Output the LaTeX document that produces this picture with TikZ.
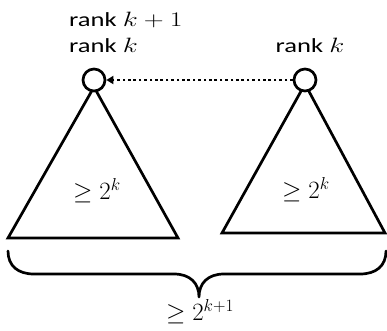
\documentclass[tikz,border=0pt]{standalone}
\usepackage{fontspec}
\setmainfont{Carlito}
\usetikzlibrary{arrows.meta}
\newcommand{\wide}[1]{\scalebox{1.33}[1]{#1}}
\begin{document}
\begin{tikzpicture}[x=1pt,y=-1pt,
  vert/.style={circle,draw,line width=2.7pt,fill=white,minimum size=22pt,inner sep=0pt},
  tri/.style={draw,line width=2.7pt,line join=miter},
  lbl/.style={font=\fontsize{20}{23}\selectfont,inner sep=0pt},
  cnt/.style={font=\fontsize{24}{28}\selectfont,inner sep=0pt},
  link/.style={line width=2.7pt,dash pattern=on 2.7pt off 2.7pt,-{Triangle[length=7pt,width=8pt]}}
]
\useasboundingbox (0,0) rectangle (387,330);
% triangles
\coordinate (la) at (94,87);
\coordinate (lb1) at (8,238);
\coordinate (lb2) at (178,238);
\coordinate (ra) at (305,84);
\coordinate (rb1) at (222,233);
\coordinate (rb2) at (385,233);
\draw[tri] (la) -- (lb1) -- (lb2) -- cycle;
\draw[tri] (ra) -- (rb1) -- (rb2) -- cycle;
% roots
\node[vert] (L) at (94,80) {};
\node[vert] (R) at (305,80) {};
\draw[link] (R.west) -- (L.east);
% labels
\node[lbl,anchor=west] (t1) at (69,20) {\wide{rank $k+1$}};
\node[lbl,anchor=west] (t2) at (69,45) {\wide{rank $k$}};
\node[lbl] (t3) at (310,45) {\wide{rank $k$}};
\node[cnt] (c1) at (97,191) {$\geq 2^{k}$};
\node[cnt] (c2) at (306,190) {$\geq 2^{k}$};
% brace
\coordinate (b1) at (8,251);
\coordinate (b2) at (386,251);
\draw[line width=2.7pt,line cap=round,line join=round]
  (b1) .. controls (8,266) and (18,274) .. (34,274)
  -- (174,274) .. controls (190,274) and (199,283) .. (199,297)
  .. controls (199,283) and (208,274) .. (224,274)
  -- (360,274) .. controls (376,274) and (386,266) .. (b2);
\node[cnt] (c3) at (200,312) {$\geq 2^{k+1}$};
\end{tikzpicture}
\end{document}
